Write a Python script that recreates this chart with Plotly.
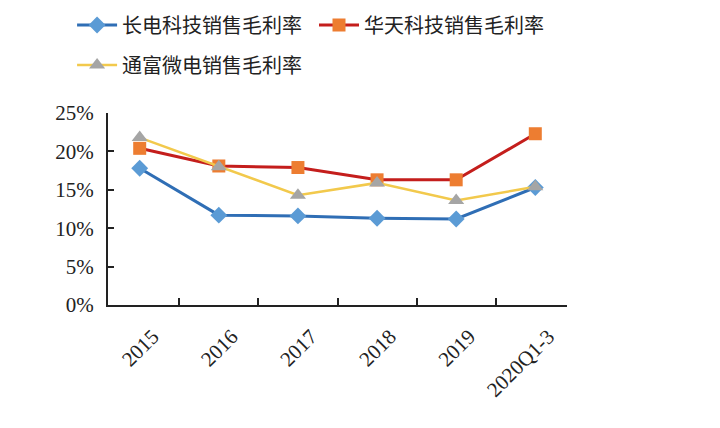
import plotly.graph_objects as go

# 横轴类别
categories = ["2015", "2016", "2017", "2018", "2019", "2020Q1-3"]

# 各公司销售毛利率 (%)
changdian = [17.8, 11.7, 11.6, 11.3, 11.2, 15.3]
huatian = [20.4, 18.1, 17.9, 16.3, 16.3, 22.3]
tongfu = [21.8, 18.0, 14.3, 15.9, 13.6, 15.4]

names = ["长电科技销售毛利率", "华天科技销售毛利率", "通富微电销售毛利率"]

fig = go.Figure()

# 每条线单独一个图例, 方便按参考图摆放
fig.add_trace(go.Scatter(
    x=categories, y=changdian, name=names[0], mode="lines+markers",
    line=dict(color="#2F6EB5", width=3),
    marker=dict(symbol="diamond", size=13, color="#5B9BD5"),
    legend="legend", showlegend=True))

fig.add_trace(go.Scatter(
    x=categories, y=huatian, name=names[1], mode="lines+markers",
    line=dict(color="#C41E1C", width=3),
    marker=dict(symbol="square", size=13, color="#ED7D31"),
    legend="legend2", showlegend=True))

fig.add_trace(go.Scatter(
    x=categories, y=tongfu, name=names[2], mode="lines+markers",
    line=dict(color="#F2C94C", width=2.5),
    marker=dict(symbol="triangle-up", size=14, color="#A5A5A5"),
    legend="legend3", showlegend=True))

legend_font = dict(family="Noto Sans CJK SC", size=20, color="#222222")


def leg(x, y):
    return dict(orientation="h", xref="container", yref="container",
                x=x, y=y, xanchor="left", yanchor="middle",
                font=legend_font, itemwidth=40, bgcolor="rgba(0,0,0,0)")


# 页面 body 自带 8px 边距, 这里的边距已扣除
fig.update_layout(
    width=720, height=428, showlegend=True,
    margin=dict(l=100, r=161, t=105, b=131, autoexpand=False),
    paper_bgcolor="white", plot_bgcolor="white",
    font=dict(family="Liberation Serif", color="#222222"),
    legend=leg(0.089, 1 - 17 / 428),
    legend2=leg(0.425, 1 - 17 / 428),
    legend3=leg(0.089, 1 - 57 / 428),
)

fig.update_xaxes(
    type="category", showline=True, linecolor="#222222", linewidth=2,
    ticks="inside", tickson="boundaries", ticklen=7, tickwidth=2,
    tickcolor="#222222",
    tickangle=-45, tickfont=dict(family="Liberation Serif", size=21),
    ticklabelshift=13, ticklabelstandoff=9,
    showgrid=False, zeroline=False, automargin=False)

fig.update_yaxes(
    range=[0, 25], dtick=5, ticksuffix="%", showline=True,
    linecolor="#222222", linewidth=2, ticks="inside", ticklen=6,
    tickwidth=1.5, tickcolor="#222222",
    tickfont=dict(family="Liberation Serif", size=21),
    ticklabelstandoff=8,
    showgrid=False, zeroline=False, automargin=False)

fig.write_html("out.html")
